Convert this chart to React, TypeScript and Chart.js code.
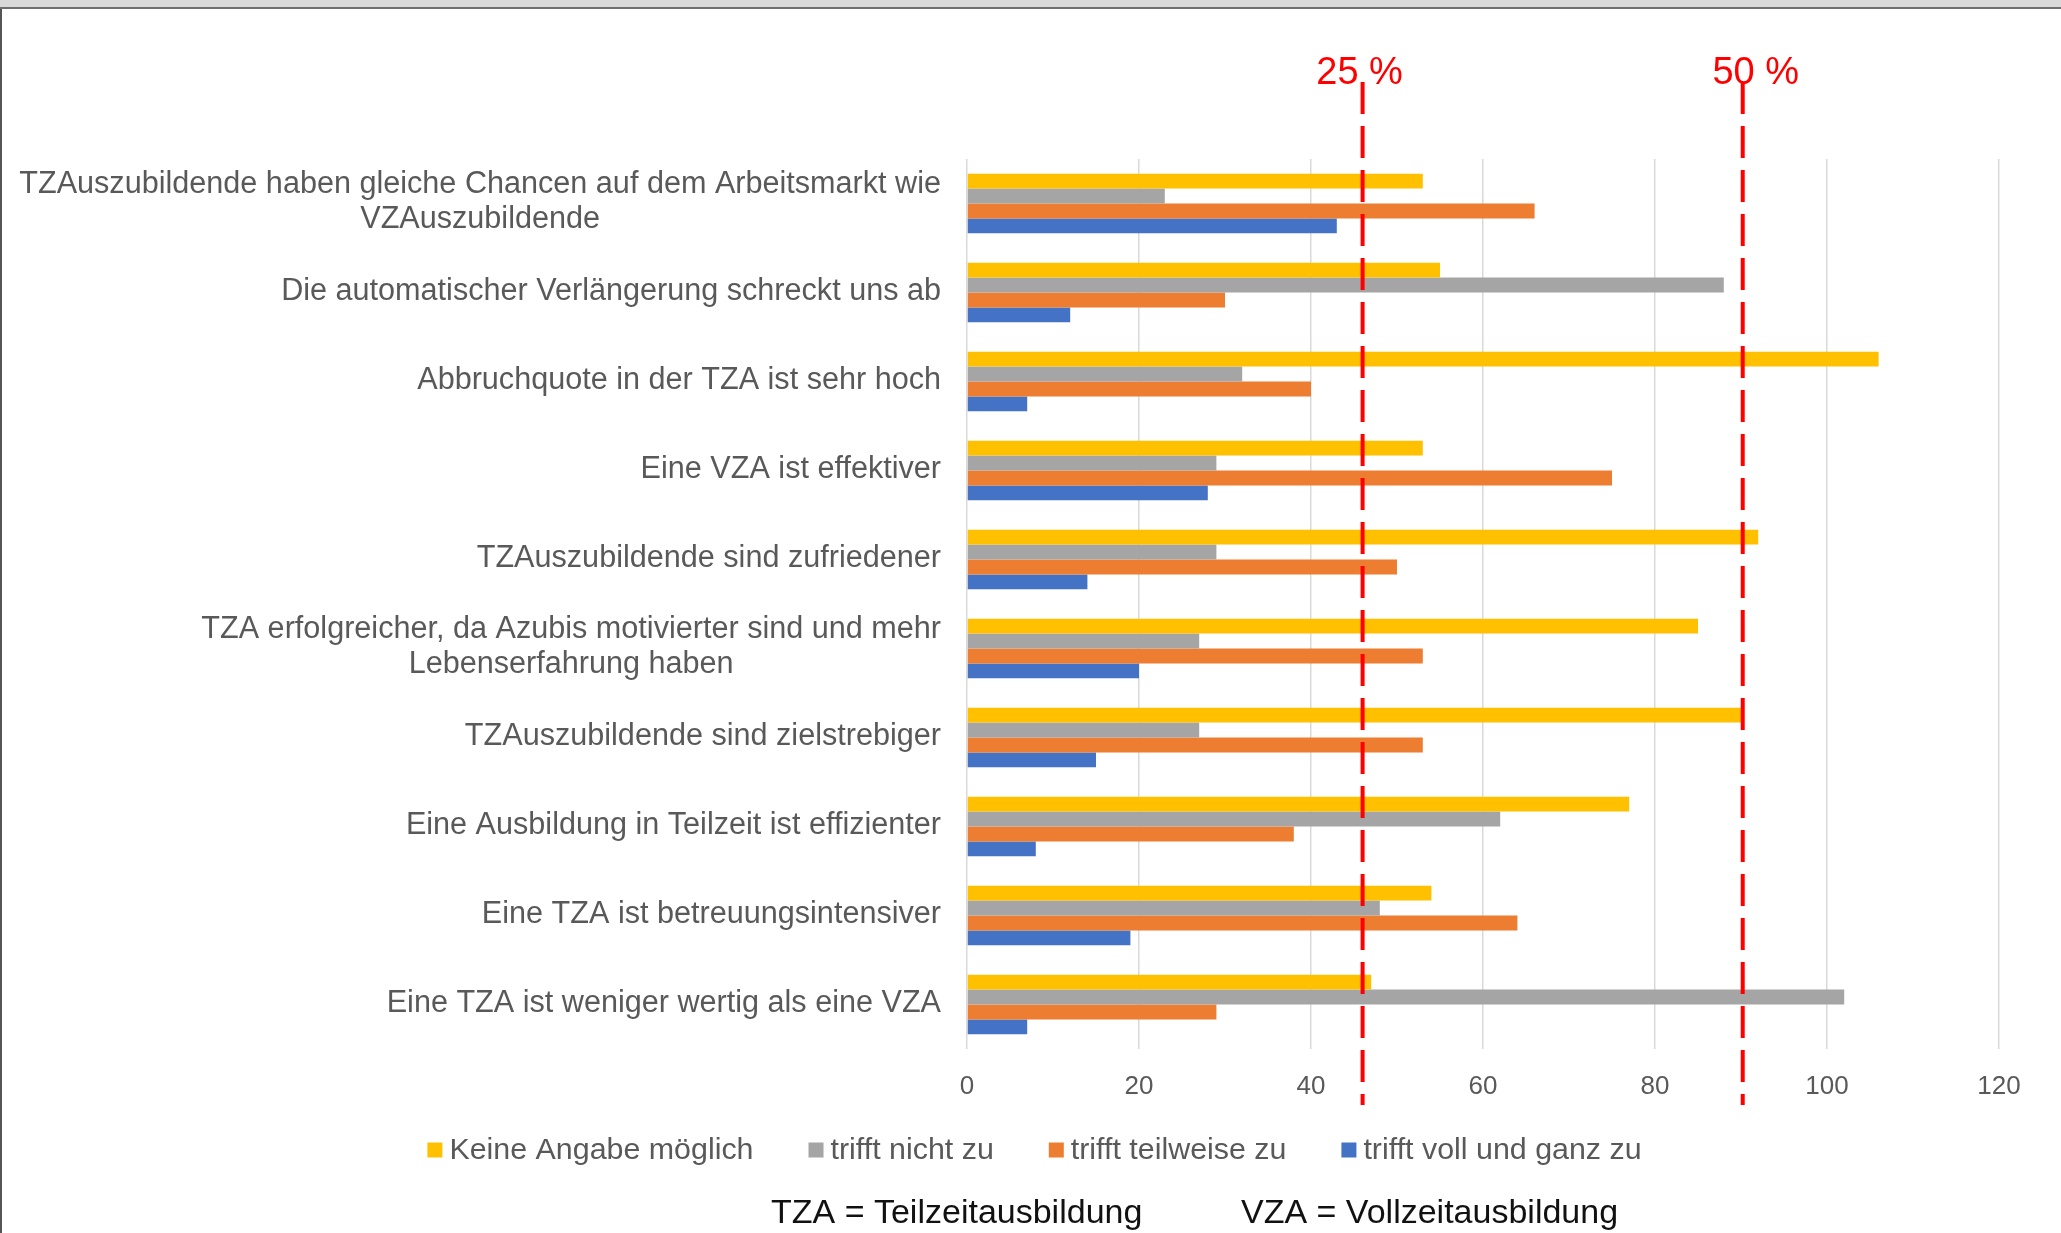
import React, { useEffect, useRef } from 'react';
import { Chart, registerables } from 'chart.js';

Chart.register(...registerables);

// Statements (top to bottom), multi-line labels as arrays
const categories: (string | string[])[] = [
  ['TZAuszubildende haben gleiche Chancen auf dem Arbeitsmarkt wie', 'VZAuszubildende'],
  'Die automatischer Verlängerung schreckt uns ab',
  'Abbruchquote in der TZA ist sehr hoch',
  'Eine VZA ist effektiver',
  'TZAuszubildende sind zufriedener',
  ['TZA erfolgreicher, da Azubis motivierter sind und mehr', 'Lebenserfahrung haben'],
  'TZAuszubildende sind zielstrebiger',
  'Eine Ausbildung in Teilzeit ist effizienter',
  'Eine TZA ist betreuungsintensiver',
  'Eine TZA ist weniger wertig als eine VZA',
];

const keineAngabe = [53, 55, 106, 53, 92, 85, 90, 77, 54, 47];
const trifftNicht = [23, 88, 32, 29, 29, 27, 27, 62, 48, 102];
const trifftTeilweise = [66, 30, 40, 75, 50, 53, 53, 38, 64, 29];
const trifftVoll = [43, 12, 7, 28, 14, 20, 15, 8, 19, 7];

const seriesNames = ['Keine Angabe möglich', 'trifft nicht zu', 'trifft teilweise zu', 'trifft voll und ganz zu'];
const seriesColors = ['#FFC000', '#A5A5A5', '#ED7D31', '#4472C4'];

const xMin = 0;
const xMax = 120;
const xStep = 20;

// Reference lines: 25 % and 50 % of respondents
const refLabels = ['25 %', '50 %'];
const refValues = [46, 90.2];

const footerNotes = ['TZA = Teilzeitausbildung', 'VZA = Vollzeitausbildung'];

const FONT = "'Liberation Sans', Arial, Helvetica, sans-serif";
const TEXT_GRAY = '#595959';

const W = 2061;
const H = 1233;

const decorations = {
  id: 'decorations',
  beforeDraw(chart: any) {
    const { ctx, width, height } = chart;
    ctx.save();
    ctx.fillStyle = '#ffffff';
    ctx.fillRect(0, 0, width, height);
    // window frame
    ctx.fillStyle = '#d9d9d9';
    ctx.fillRect(0, 0, width, 7);
    ctx.fillStyle = '#6f6f6f';
    ctx.fillRect(0, 7, width, 2);
    ctx.fillStyle = '#555555';
    ctx.fillRect(0, 9, 2, height - 9);
    ctx.restore();
  },
  afterDatasetsDraw(chart: any) {
    const { ctx, chartArea, scales } = chart;
    const xs = scales.x;
    const ys = scales.y;
    ctx.save();

    // category labels: block right-aligned, lines centred within the block
    ctx.font = `30.6px ${FONT}`;
    ctx.fillStyle = TEXT_GRAY;
    ctx.textBaseline = 'middle';
    ctx.textAlign = 'center';
    const lineH = 35;
    const right = chartArea.left - 26;
    categories.forEach((lab, i) => {
      const lines = Array.isArray(lab) ? lab : [lab];
      const w = Math.max(...lines.map((l) => ctx.measureText(l).width));
      const cx = right - w / 2;
      const cy = ys.getPixelForValue(i) - 1;
      lines.forEach((l, j) => {
        ctx.fillText(l, cx, cy + (j - (lines.length - 1) / 2) * lineH);
      });
    });

    // dashed reference lines with labels
    ctx.strokeStyle = '#ff0000';
    ctx.lineWidth = 4;
    ctx.setLineDash([32, 12]);
    refValues.forEach((v) => {
      const px = xs.getPixelForValue(v);
      ctx.beginPath();
      ctx.moveTo(px, chartArea.top - 77);
      ctx.lineTo(px, chartArea.bottom + 56);
      ctx.stroke();
    });
    ctx.setLineDash([]);
    ctx.font = `38px ${FONT}`;
    ctx.fillStyle = '#ff0000';
    ctx.textBaseline = 'alphabetic';
    ctx.textAlign = 'center';
    const labelShift = [-3, 13];
    refValues.forEach((v, k) => {
      const px = xs.getPixelForValue(v);
      ctx.fillText(refLabels[k], px + labelShift[k], chartArea.top - 75);
    });

    // legend
    ctx.font = `30.4px ${FONT}`;
    ctx.textAlign = 'left';
    ctx.textBaseline = 'middle';
    const box = 15;
    const textGap = 22;
    const itemGap = 55;
    const widths = seriesNames.map((n) => ctx.measureText(n).width);
    const total = widths.reduce((a, b) => a + b, 0) + seriesNames.length * textGap + (seriesNames.length - 1) * itemGap;
    let lx = chart.width / 2 + 4 - total / 2;
    const ly = chartArea.bottom + 101;
    seriesNames.forEach((n, k) => {
      ctx.fillStyle = seriesColors[k];
      ctx.fillRect(lx, ly - box / 2, box, box);
      ctx.fillStyle = TEXT_GRAY;
      ctx.fillText(n, lx + textGap, ly + 1);
      lx += textGap + widths[k] + itemGap;
    });

    // footer notes
    ctx.font = `34px ${FONT}`;
    ctx.fillStyle = '#111111';
    ctx.textBaseline = 'alphabetic';
    ctx.fillText(footerNotes[0], 771, chartArea.bottom + 174);
    ctx.fillText(footerNotes[1], 1241, chartArea.bottom + 174);

    ctx.restore();
  },
};

export default function App() {
  const canvasRef = useRef<HTMLCanvasElement | null>(null);

  useEffect(() => {
    document.body.style.margin = '0';
    document.body.style.overflow = 'hidden';
    const canvas = canvasRef.current;
    if (!canvas) return;
    Chart.defaults.font.family = FONT;

    const seriesValues = [keineAngabe, trifftNicht, trifftTeilweise, trifftVoll];

    const chart = new Chart(canvas, {
      type: 'bar',
      data: {
        labels: categories.map((c) => (Array.isArray(c) ? c.join(' ') : c)),
        datasets: seriesValues.map((vals, k) => ({
          label: seriesNames[k],
          data: vals,
          backgroundColor: seriesColors[k],
          borderWidth: 0,
          categoryPercentage: 0.67,
          barPercentage: 1.0,
        })),
      },
      options: {
        indexAxis: 'y',
        responsive: false,
        animation: false,
        events: [],
        layout: { padding: { top: 159, right: 62, bottom: 124, left: 0 } },
        plugins: {
          legend: { display: false },
          tooltip: { enabled: false },
          title: { display: false },
        },
        scales: {
          x: {
            type: 'linear',
            min: xMin,
            max: xMax,
            position: 'bottom',
            ticks: {
              stepSize: xStep,
              color: TEXT_GRAY,
              font: { size: 26, family: FONT },
              padding: 22,
            },
            grid: { color: '#d9d9d9', lineWidth: 1.5, drawTicks: false },
            border: { display: false },
            afterFit: (scale: any) => {
              scale.height = 60;
            },
          },
          y: {
            type: 'category',
            ticks: { display: false },
            grid: { display: false },
            border: { display: false },
            afterFit: (scale: any) => {
              scale.width = 967;
            },
          },
        },
      },
      plugins: [decorations],
    });

    return () => chart.destroy();
  }, []);

  return (
    <div style={{ width: W, height: H, position: 'relative' }}>
      <canvas ref={canvasRef} width={W} height={H} style={{ display: 'block', width: W, height: H }} />
    </div>
  );
}
